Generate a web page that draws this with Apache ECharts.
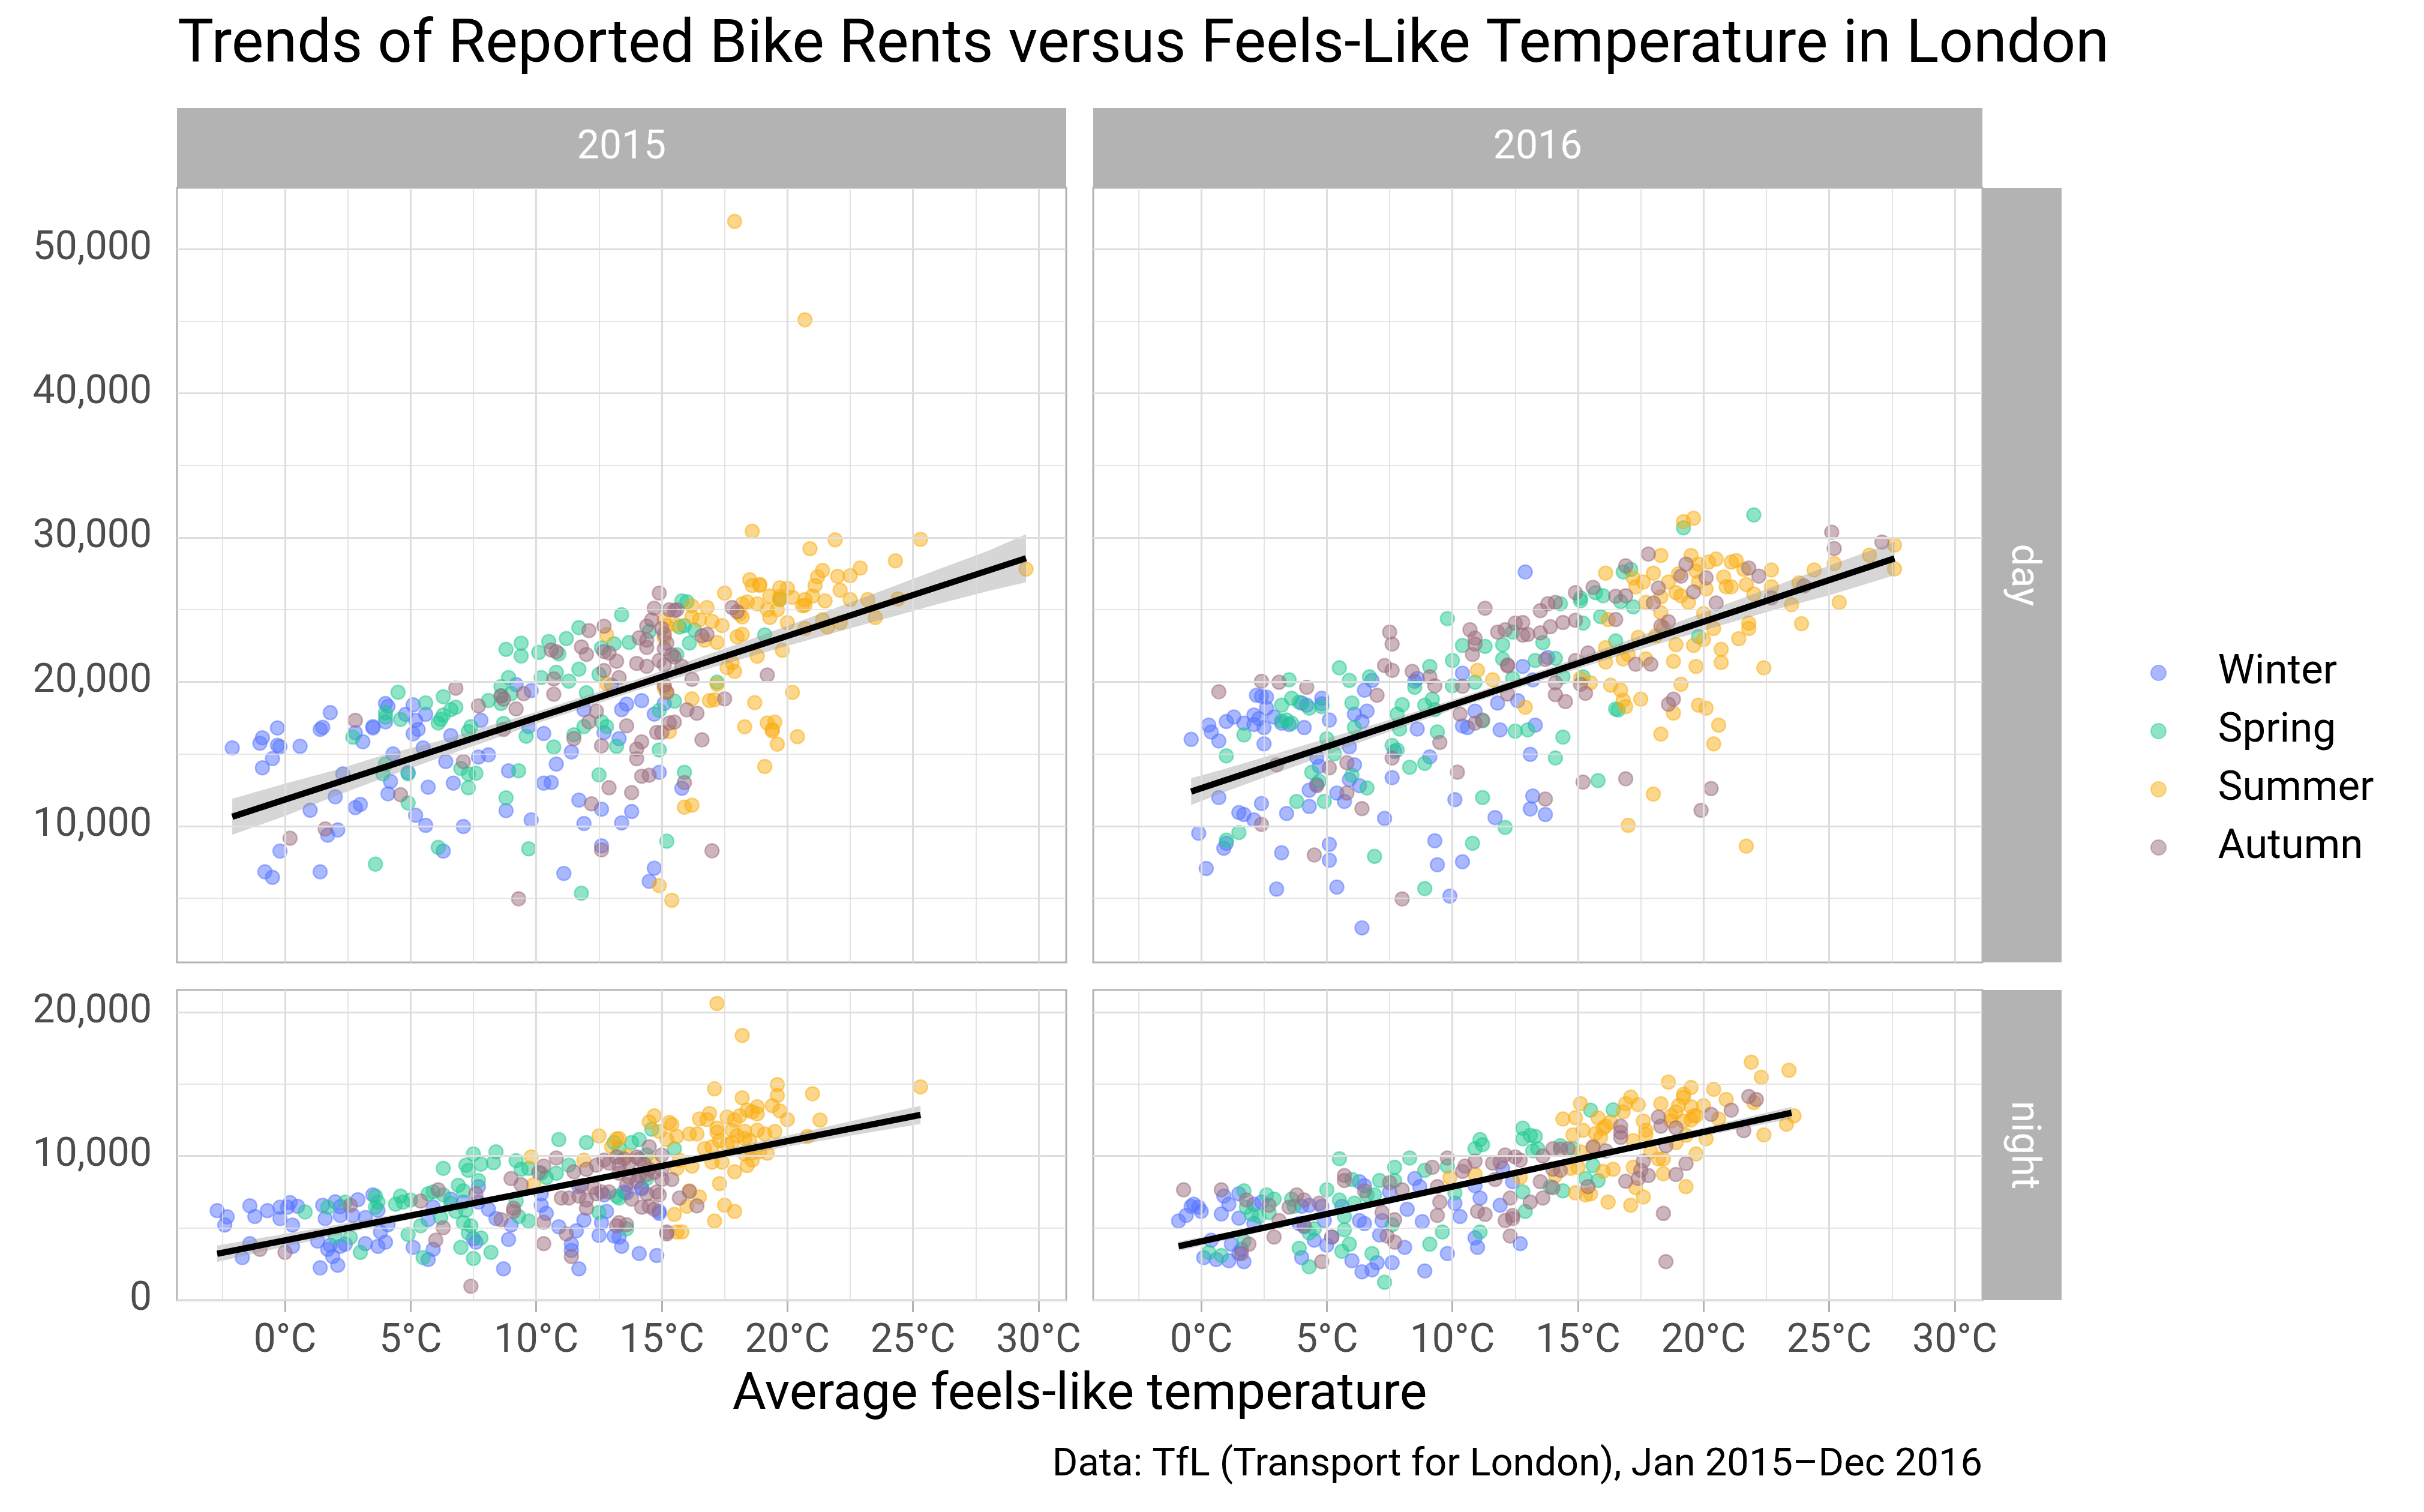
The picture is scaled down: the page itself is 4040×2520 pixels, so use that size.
<!DOCTYPE html>
<html>
<head>
<meta charset="utf-8">
<script src="https://cdn.jsdelivr.net/npm/echarts@6/dist/echarts.min.js"></script>
<style>
html, body { margin: 0; padding: 0; background: #fff; }
#chart { width: 4040px; height: 2520px; }
</style>
</head>
<body>
<div id="chart"></div>
<script>
// 各面板数据：[平均体感温度 °C, 租车量]
const winter2015Day = [[-2.1,15420],[-1.0,15740],[-0.9,16120],[-0.3,16800],[-0.3,15600],[-0.2,15500],[-0.5,14680],[-0.9,14040],[0.6,15530],[1.4,16700],[1.5,16850],[1.8,17860],[3.1,15850],[2.8,16480],[3.5,16900],[3.5,16800],[4.0,18500],[4.1,18300],[4.0,17230],[5.1,18400],[4.8,17750],[5.2,17330],[5.6,17750],[5.1,16400],[5.3,16700],[4.3,15000],[5.5,15420],[6.6,16270],[7.8,17330],[6.4,14470],[7.7,14790],[8.1,14940],[4.9,13720],[4.2,13090],[2.0,12030],[2.3,13620],[1.0,11100],[2.8,11280],[3.0,11500],[4.1,12240],[5.7,12700],[6.7,12980],[5.2,10750],[5.6,10050],[7.1,9970],[8.9,13830],[9.2,19810],[9.8,19390],[9.7,16900],[10.3,16420],[10.3,12980],[10.6,13020],[8.8,11070],[9.8,10430],[10.8,14300],[11.4,15140],[11.7,11800],[11.9,10180],[12.6,11170],[13.4,10220],[11.9,18070],[12.7,16480],[13.3,16060],[13.4,18070],[13.0,19770],[2.1,9730],[1.7,9370],[-0.2,8270],[-0.8,6830],[-0.5,6450],[1.4,6830],[6.3,8270],[11.1,6720],[12.6,8630],[14.2,18700],[13.6,18460],[15.1,18500],[14.7,17760],[15.8,12620],[14.9,13730],[13.8,11010],[14.7,7080],[14.5,6170]];
const spring2015Day = [[4.5,19280],[4.0,17860],[4.0,17550],[4.6,17400],[5.6,18540],[6.3,18970],[6.2,17400],[6.1,17150],[6.3,17700],[6.6,18070],[6.8,18240],[7.3,16550],[7.4,16900],[2.7,16160],[4.0,14300],[3.9,13620],[4.9,13620],[7.0,14000],[7.3,13620],[7.6,13660],[7.3,12660],[4.9,11600],[6.1,8530],[3.6,7360],[8.1,18710],[8.6,19030],[8.6,18500],[8.7,17120],[8.9,20300],[8.6,19670],[9.0,19180],[8.8,22250],[9.4,22680],[9.4,21790],[10.1,22040],[10.5,22790],[10.9,21940],[11.2,23000],[11.7,23760],[10.2,20300],[10.8,20660],[11.3,20050],[11.7,20880],[12.0,19240],[12.5,20520],[12.6,22360],[13.1,22640],[13.4,24650],[9.6,16230],[10.7,15480],[11.5,16330],[11.9,16900],[12.6,17230],[12.8,16900],[13.2,15530],[9.3,13830],[12.5,13550],[8.8,11960],[9.7,8420],[11.8,5340],[15.8,25610],[16.0,25550],[15.9,23900],[15.7,23800],[16.3,23600],[13.7,22730],[14.5,23500],[15.6,21880],[16.1,22690],[19.1,23250],[19.7,25710],[17.2,19970],[15.5,18660],[14.9,18020],[14.9,15280],[15.9,13730],[15.2,8950]];
const summer2015Day = [[12.8,23270],[12.8,19880],[17.9,51920],[20.7,45100],[18.6,30440],[20.9,29230],[21.9,29840],[25.3,29880],[24.3,28390],[29.5,27820],[22.9,27890],[21.4,27720],[21.2,27280],[22.0,27320],[22.5,27360],[22.1,26350],[21.1,26680],[18.5,27080],[18.6,26680],[18.9,26680],[18.9,26760],[19.7,26520],[20.0,26480],[17.5,26150],[19.3,25950],[19.7,25900],[20.2,25860],[19.7,25740],[20.7,25700],[21.0,25950],[21.5,25610],[20.6,25270],[20.7,25310],[22.5,25700],[23.2,25700],[24.4,25750],[18.8,25400],[18.4,25540],[18.2,25400],[19.2,25000],[19.3,24460],[19.6,25000],[18.1,24700],[18.2,24500],[16.8,25150],[16.2,25270],[16.2,24500],[16.5,24300],[17.0,24200],[17.4,23900],[20.0,24100],[20.7,23700],[21.4,24300],[21.6,23800],[22.1,24100],[23.5,24460],[18.0,23130],[18.2,23290],[17.2,22730],[16.7,22890],[15.1,24300],[15.2,23900],[15.6,23940],[15.1,23050],[19.8,22190],[18.8,21780],[17.8,21320],[17.6,20980],[17.9,20720],[20.2,19270],[16.2,18820],[16.9,18700],[17.1,18760],[17.2,19830],[18.7,18560],[15.1,19570],[15.2,19270],[19.2,17150],[19.5,17210],[19.4,16700],[19.4,16600],[18.3,16890],[20.4,16200],[19.6,15680],[19.1,14130],[15.3,16550],[15.9,11310],[16.2,11450],[14.9,5870],[15.4,4860]];
const autumn2015Day = [[2.8,17330],[6.8,19560],[7.7,18330],[8.6,19030],[8.7,18800],[9.2,18120],[9.5,19180],[8.7,16700],[10.7,20200],[10.7,19140],[10.6,22210],[10.8,22100],[11.8,22420],[12.0,21900],[12.1,23550],[12.7,23850],[12.7,22100],[12.9,22000],[12.7,20790],[13.2,21430],[13.3,20300],[12.4,17970],[12.1,17230],[11.5,16060],[12.6,15570],[12.9,12660],[12.2,11540],[12.6,8350],[9.3,4960],[7.1,14470],[4.6,12180],[1.6,9800],[0.2,9160],[14.9,26150],[14.7,25100],[15.3,25000],[15.5,24950],[15.6,25000],[14.6,24300],[14.4,23860],[15.0,23700],[15.1,23300],[14.1,23050],[14.4,22890],[14.4,22390],[16.6,23190],[16.8,23290],[17.8,25150],[18.0,24860],[15.1,22290],[15.2,22690],[15.4,21880],[14.0,21280],[14.4,21080],[14.9,21480],[15.1,21180],[15.5,21720],[15.8,21080],[16.2,20170],[15.1,19770],[15.2,19270],[19.2,20470],[17.5,18820],[16.0,18060],[16.4,17820],[15.3,17150],[15.5,17210],[14.8,16490],[15.0,16490],[16.6,15980],[13.6,16950],[14.2,15840],[14.0,15340],[14.0,14670],[14.2,13460],[14.5,13530],[15.9,13020],[13.8,12320],[17.0,8290]];

const winter2016Day = [[-0.4,16010],[0.3,17000],[0.4,16520],[0.7,15900],[1.0,17250],[1.3,17560],[1.7,17140],[2.1,17040],[2.1,17700],[2.3,17450],[2.5,16830],[2.2,19070],[2.4,19000],[2.6,18940],[2.6,18180],[2.9,17560],[2.5,15700],[3.2,17140],[3.5,17040],[4.0,18530],[4.2,18380],[4.1,16830],[4.8,18860],[4.8,18480],[5.1,17350],[6.1,17760],[6.4,17250],[6.6,17970],[6.5,19420],[6.8,20100],[8.5,20040],[8.6,20240],[8.6,16730],[10.4,20600],[10.9,17970],[10.4,16940],[10.6,16830],[11.8,18530],[12.6,18700],[12.8,21070],[11.9,16670],[13.3,17000],[13.2,20140],[12.9,27620],[5.9,15490],[4.6,14770],[4.7,14150],[6.1,14250],[5.9,13220],[6.3,12800],[4.3,12490],[4.6,12900],[5.4,12290],[5.7,11710],[4.3,11360],[7.6,13360],[9.1,14800],[7.7,15180],[10.1,11830],[13.2,12080],[13.1,11190],[11.7,10590],[13.1,14970],[0.7,11980],[2.4,11560],[1.5,10940],[1.7,10800],[2.1,10430],[3.4,10880],[7.3,10530],[-0.1,9500],[0.9,8460],[1.0,8810],[0.2,7060],[3.2,8150],[5.1,8730],[5.1,7630],[9.3,8980],[9.4,7320],[10.4,7530],[3.0,5630],[5.4,5770],[9.9,5150],[6.4,2940],[13.8,21690],[13.7,10800]];
const spring2016Day = [[3.5,20140],[3.2,18380],[3.6,18860],[3.9,18590],[4.3,18180],[4.8,18280],[3.2,17290],[3.4,17350],[3.6,17140],[1.7,16320],[1.0,14870],[5.5,20970],[5.9,20100],[6.7,20350],[6.0,18530],[6.1,16830],[5.0,16050],[5.3,15010],[4.4,13730],[4.7,13110],[6.0,13530],[6.6,12640],[3.8,11710],[4.9,11710],[1.0,9020],[1.5,9560],[6.9,7900],[7.8,17760],[8.0,18420],[7.9,16730],[7.6,15590],[7.8,15280],[8.3,14080],[8.9,14350],[8.9,18380],[9.2,18800],[9.3,18070],[9.1,21070],[8.5,19620],[9.4,16520],[9.8,24380],[10.0,21480],[10.0,19730],[10.4,22520],[10.9,19970],[11.3,22460],[11.2,17290],[11.2,11980],[10.8,8810],[12.0,22580],[12.0,21590],[12.4,23450],[12.4,20240],[12.5,16580],[13.0,16670],[13.3,21480],[12.1,9910],[8.9,5670],[22.0,31570],[19.2,30680],[16.8,27620],[17.1,27790],[15.1,25820],[15.1,25620],[15.7,26180],[16.0,25970],[16.7,25560],[17.2,25200],[14.3,25410],[15.9,24520],[15.2,24070],[13.6,22720],[16.5,22830],[14.1,21630],[15.2,20350],[14.4,20350],[16.5,18110],[16.6,18050],[14.4,16170],[14.1,14720],[15.8,13150],[19.8,23140]];
const summer2016Day = [[11.0,20800],[11.6,20140],[12.9,18240],[19.2,31100],[19.6,31340],[18.3,28760],[19.5,28760],[19.8,28160],[20.2,28300],[20.5,28510],[21.1,28300],[21.3,28410],[21.6,27790],[22.7,27750],[16.1,27540],[18.0,27540],[17.2,27210],[17.6,26920],[17.3,26590],[18.6,26920],[19.0,27480],[19.7,27680],[19.8,26920],[20.1,26440],[20.8,27270],[20.9,26590],[21.1,26590],[21.7,26750],[22.7,26590],[22.0,26090],[18.9,26180],[19.1,25970],[19.4,25510],[17.7,25510],[18.3,25890],[18.3,24790],[20.0,24730],[20.4,23700],[21.8,24070],[21.8,23700],[23.5,25350],[23.9,24030],[24.4,27750],[25.2,28200],[25.4,25510],[26.6,28780],[27.6,29480],[27.6,27830],[23.8,26860],[17.4,23080],[18.1,23200],[18.9,22580],[19.6,22520],[20.0,22930],[20.7,22250],[21.4,22990],[16.1,22370],[16.1,21380],[16.8,21590],[17.0,21900],[17.7,21590],[18.8,21420],[19.7,21070],[20.7,21340],[22.4,20970],[15.1,20240],[15.5,19930],[16.3,19770],[16.7,19420],[16.8,18730],[16.9,18280],[17.5,18800],[19.1,19830],[19.8,18380],[20.1,18180],[18.8,17830],[20.6,17000],[18.3,16380],[20.4,15700],[18.0,12220],[17.0,10050],[21.7,8610],[16.2,24320],[18.4,23760]];
const autumn2016Day = [[0.7,19310],[2.4,20040],[3.1,19970],[4.2,19620],[7.0,19070],[7.5,23450],[7.6,22620],[7.3,21130],[7.6,20800],[8.4,20720],[9.1,20350],[9.3,19730],[9.5,15800],[7.6,14720],[5.8,14390],[5.1,14040],[3.0,14250],[4.6,12800],[5.8,12290],[6.4,11210],[2.4,10120],[4.5,8000],[8.0,4950],[10.7,23610],[10.9,23030],[10.9,22620],[10.8,21900],[11.3,25100],[10.4,19690],[10.3,17760],[10.9,17140],[11.2,17350],[10.2,13740],[11.8,23450],[12.1,23610],[12.5,24070],[12.8,24110],[12.2,21170],[12.2,21100],[12.2,19150],[12.8,23240],[13.0,23280],[17.8,28860],[16.9,28040],[19.3,28160],[19.1,27330],[20.1,27210],[21.8,27890],[22.2,27330],[25.1,30370],[25.2,29240],[27.1,29690],[24.0,26650],[22.7,25820],[15.6,26550],[14.9,26180],[16.5,25930],[16.9,25970],[18.2,26510],[18.0,25470],[19.6,26240],[20.5,25470],[18.6,24170],[18.3,23860],[16.5,24320],[14.9,24270],[14.4,24110],[13.9,23820],[13.5,23400],[14.1,25510],[13.8,25410],[13.5,24940],[15.4,22000],[14.9,21480],[13.7,21550],[17.3,21220],[17.9,21220],[14.1,19930],[15.1,19830],[15.3,19210],[14.1,19110],[14.5,18630],[18.8,18800],[18.6,18450],[15.2,13050],[16.9,13280],[20.3,12600],[19.9,11090],[13.7,11870]];

const winter2015Night = [[-2.7,6190],[-2.3,5760],[-2.4,5190],[-1.4,6530],[-1.2,5790],[-0.7,6190],[-0.2,5640],[-0.2,6430],[0.2,6760],[0.1,6430],[0.3,5190],[0.5,6500],[1.5,6570],[1.6,5640],[2.0,6810],[2.2,6470],[2.2,5860],[2.7,5860],[2.9,6960],[3.2,5710],[3.5,7290],[3.7,6210],[4.1,5210],[3.8,4710],[-1.4,3900],[-1.7,2930],[0.3,3710],[1.3,4070],[1.7,3500],[1.8,3790],[2.2,3710],[2.4,3860],[1.9,3000],[1.4,2210],[2.1,2390],[3.2,3900],[3.7,3710],[4.0,4000],[5.1,3640],[5.9,3500],[5.7,2790],[5.7,5570],[5.9,6430],[6.6,7000],[7.7,7860],[7.7,6790],[8.1,6290],[7.1,6790],[8.4,5640],[9.0,5190],[8.9,4190],[7.6,4000],[7.5,4240],[8.7,2140],[10.2,6570],[10.2,7360],[10.4,6000],[10.9,5070],[11.6,4790],[11.4,3860],[11.4,3430],[11.9,5530],[11.7,2140],[12.6,5360],[12.8,6140],[12.5,4470],[13.1,4430],[11.7,7860],[12.7,7290],[13.5,7500],[13.6,7430],[14.2,7790],[14.2,7710],[14.9,6140],[14.9,6000],[13.4,3710],[14.1,3210],[14.8,3070],[13.3,4360]];
const spring2015Night = [[0.8,6100],[1.7,6430],[2.4,6790],[2.0,4390],[2.6,4330],[3.0,3290],[3.6,7210],[3.7,6790],[3.6,6430],[4.4,6640],[4.6,7210],[4.7,6790],[5.0,6930],[4.9,4530],[5.4,5140],[5.5,2930],[5.7,7360],[5.9,7500],[6.3,7290],[6.3,9140],[6.9,7960],[7.1,7570],[7.2,9360],[7.3,9000],[7.5,10140],[7.8,9430],[7.7,8290],[6.6,6710],[6.8,6140],[7.2,6210],[6.2,5710],[7.1,5360],[7.4,5140],[7.3,4640],[7.0,3640],[7.5,2860],[8.2,3290],[7.8,4290],[8.4,10290],[8.3,9530],[9.2,9670],[9.4,9070],[9.7,9140],[9.2,6860],[9.3,5790],[9.7,5470],[10.9,11140],[12.0,10930],[10.2,8790],[10.4,8500],[10.8,8790],[11.3,9360],[13.1,10930],[12.5,6070],[13.2,7210],[13.8,10930],[14.1,11140],[14.6,11860],[15.5,10500],[13.3,10500],[14.4,10070],[14.4,8430],[13.3,7070],[13.6,4930]];
const summer2015Night = [[9.8,9930],[9.9,8000],[11.9,9710],[12.5,11390],[13.0,10640],[13.2,11190],[17.2,20610],[18.2,18390],[17.1,14670],[19.6,14960],[19.6,14210],[21.0,14330],[21.3,12500],[25.3,14810],[18.2,14040],[19.4,13500],[19.7,13140],[20.0,12530],[18.8,13430],[18.8,12930],[18.6,13070],[18.4,13190],[18.1,12790],[17.6,12710],[17.9,12500],[16.9,12960],[16.5,12570],[16.8,12530],[14.7,12790],[14.5,12360],[15.3,12330],[15.4,12190],[14.9,11710],[15.6,11360],[16.1,11530],[16.4,11530],[17.2,11930],[17.2,11640],[17.8,11790],[18.3,11720],[18.8,11790],[19.1,11530],[19.5,11710],[20.8,11360],[17.3,11070],[17.6,10790],[17.8,10930],[18.3,11210],[18.5,11070],[18.0,11400],[15.2,11140],[16.7,10500],[17.0,10640],[18.6,10210],[18.9,10290],[19.2,10190],[18.3,10140],[18.6,9710],[17.0,9570],[17.4,9570],[15.7,9710],[16.2,9290],[15.6,9140],[18.4,9330],[17.9,8900],[17.3,8070],[16.5,7140],[16.1,7570],[16.0,6500],[15.5,5930],[17.5,6570],[17.9,6140],[17.1,5470],[15.6,4710],[15.8,4710],[13.3,11210],[13.6,10000],[14.6,9640]];
const autumn2015Night = [[2.6,6570],[5.4,6860],[6.1,7640],[6.3,5000],[6.0,4140],[7.6,7360],[9.0,8430],[9.4,8000],[9.1,6360],[9.1,6140],[8.6,5570],[7.4,930],[10.3,5390],[10.3,3900],[11.2,4570],[11.4,3000],[-1.0,3500],[0.0,3290],[10.1,8860],[10.3,9290],[10.8,9860],[11.0,7070],[11.3,7070],[11.5,8900],[12.0,6360],[12.0,9070],[12.4,9360],[12.7,9710],[12.9,9500],[13.2,9930],[11.8,7930],[12.3,7790],[12.6,7500],[12.9,7500],[11.7,7210],[12.0,6930],[12.4,7360],[13.2,5140],[14.5,10640],[15.0,10070],[14.0,9930],[14.1,9790],[13.7,9500],[13.5,9790],[13.3,9360],[14.3,9430],[14.5,9070],[15.0,9070],[14.7,8860],[13.3,8790],[13.7,8500],[14.1,8640],[14.4,8710],[15.0,8360],[15.4,8360],[13.6,8000],[14.0,8210],[14.8,7500],[14.9,7290],[14.4,7360],[16.1,7530],[15.7,7070],[16.4,6530],[13.8,7000],[14.2,6430],[14.5,6500],[14.7,6290],[15.2,4710],[15.2,4570],[13.6,5210],[13.3,5360]];

const winter2016Night = [[-0.9,5470],[-0.6,5860],[-0.4,6500],[-0.3,6640],[-0.1,6430],[0.0,6140],[0.8,5960],[0.9,7210],[1.1,6640],[1.5,7360],[1.5,5670],[2.1,6640],[2.4,6790],[2.1,5290],[0.4,4140],[0.1,2930],[0.6,2790],[1.1,2710],[1.5,3210],[1.7,2640],[1.2,3860],[1.6,3500],[4.0,6500],[4.3,6570],[3.9,5290],[4.1,5070],[4.5,4140],[4.8,6500],[4.9,5500],[5.0,3790],[5.2,4360],[4.0,2930],[5.6,6500],[6.3,8210],[6.5,7930],[6.3,5500],[6.5,5290],[7.1,4500],[7.2,5500],[7.5,7500],[8.2,6290],[8.5,8430],[8.7,7860],[8.8,5430],[8.1,3640],[6.0,2710],[6.4,1930],[6.8,2070],[7.0,2570],[7.6,2570],[8.9,2000],[9.8,3210],[10.1,6710],[10.3,5790],[10.9,7930],[11.1,7070],[10.9,4290],[11.0,3640],[11.9,6570],[12.0,9140],[12.4,8210],[12.7,3900]];
const spring2016Night = [[1.7,7570],[1.8,6430],[2.0,5930],[2.3,5790],[2.6,7290],[2.9,7000],[2.7,6070],[1.7,4070],[0.3,3290],[0.8,3070],[3.6,7000],[3.7,6500],[4.3,4640],[4.5,4930],[3.9,3570],[4.3,2290],[5.0,7640],[5.5,6930],[5.7,5790],[5.7,4860],[5.5,9810],[6.0,8360],[6.1,6710],[5.6,3360],[5.9,3860],[6.8,3210],[7.3,1210],[6.6,7290],[6.9,7290],[7.1,8290],[7.7,9210],[7.7,8290],[7.6,5210],[8.3,9860],[8.9,9000],[9.1,3860],[9.6,4710],[10.1,7430],[9.8,9290],[10.9,10500],[11.1,11140],[11.2,10790],[11.1,4710],[12.8,11930],[12.8,11190],[13.1,11430],[13.2,10360],[12.8,7500],[12.9,6140],[15.5,13190],[16.4,13210],[13.4,10500],[13.3,11360],[14.3,10710],[14.8,10500],[15.6,9330],[15.3,8430],[15.8,8290],[14.4,7570],[13.9,7860]];
const summer2016Night = [[9.9,8500],[10.9,8710],[12.7,8500],[21.9,16530],[23.4,15960],[22.3,15470],[18.6,15140],[19.5,14760],[20.4,14640],[19.2,14290],[19.2,14070],[20.9,13930],[17.1,14100],[15.1,13640],[16.9,13640],[17.4,13570],[18.3,13640],[19.0,13500],[19.5,13430],[20.0,13500],[18.9,13070],[18.7,12790],[19.6,12790],[16.8,13070],[14.4,12570],[14.9,12670],[15.8,12640],[17.6,12430],[18.7,12430],[19.2,12430],[19.5,12500],[19.7,12790],[20.6,12570],[23.6,12790],[23.3,12210],[22.4,11470],[22.0,13710],[16.1,12070],[16.3,12360],[16.0,11930],[15.2,11790],[14.8,11470],[15.7,11570],[15.9,11290],[17.7,11790],[17.7,11500],[17.2,11070],[19.3,11430],[20.1,11190],[18.9,10930],[15.6,10570],[15.1,10290],[17.9,10290],[18.2,9790],[18.4,9790],[19.7,10140],[15.0,9210],[14.7,9140],[14.1,8640],[16.4,9070],[16.0,8930],[17.2,9210],[17.3,7790],[18.4,8760],[19.3,7860],[14.9,7430],[15.3,7290],[15.5,7360],[16.2,6790],[17.1,6570],[17.6,7140]];
const autumn2016Night = [[-0.7,7640],[0.8,7640],[1.8,6930],[2.7,6570],[3.1,5500],[2.9,4360],[1.9,3860],[1.6,3210],[3.8,7290],[4.1,6930],[4.7,6710],[3.5,6430],[4.1,5140],[5.2,4360],[4.8,2640],[5.7,8640],[5.7,8290],[6.5,7570],[7.5,8140],[7.2,6070],[7.7,5570],[7.4,4430],[7.7,4000],[8.0,7640],[9.2,9210],[9.8,9860],[9.4,7860],[9.5,6790],[9.4,5860],[10.4,8930],[10.5,9290],[10.9,9640],[11.0,6140],[11.3,5930],[11.6,9500],[11.9,9570],[12.1,10070],[11.7,8360],[12.5,9930],[12.7,9710],[12.3,7070],[12.1,5500],[12.4,5860],[12.4,5640],[12.3,4430],[13.1,6790],[21.8,14140],[22.1,13930],[21.1,13190],[20.3,12900],[18.2,12710],[18.3,12070],[18.9,11960],[16.7,12070],[16.7,11640],[16.7,11290],[21.6,11760],[18.5,10710],[15.6,10640],[16.1,10360],[14.0,10500],[14.3,10470],[14.6,10500],[13.6,10000],[17.6,9640],[19.3,9470],[14.0,9070],[14.3,9000],[17.5,9000],[17.8,8640],[17.4,8430],[16.9,8240],[18.9,8710],[15.4,7860],[13.5,8210],[14.0,7790],[13.6,7070],[18.4,6000],[18.5,2640]];

// 线性拟合线(两端点)与置信带 [x, 下界, 上界]
const line2015Day = [[-2.1,10650],[29.5,28570]];
const band2015Day = [[-2.1,9400,11900],[0,10700,12950],[2,12080,13880],[4,13380,14960],[6,14640,15840],[8,15850,16890],[10,17110,17910],[12,18250,19050],[14,19400,20160],[16,20470,21390],[18,21490,22610],[20,22490,23890],[22,23470,25170],[24,24430,26470],[26,25390,27790],[28,26300,29080],[29.5,26900,30240]];
const line2016Day = [[-0.4,12390],[27.6,28550]];
const band2016Day = [[-0.4,11460,13320],[1,12400,14000],[3,13680,15040],[5,14940,16080],[7,16240,17100],[9,17460,18180],[11,18650,19310],[13,19790,20450],[15,20910,21670],[17,21990,22890],[19,23040,24160],[21,24070,25450],[23,25080,26750],[25,26000,28060],[27.6,27390,29710]];
const line2015Night = [[-2.7,3190],[25.3,12860]];
const band2015Night = [[-2.7,2620,3760],[-1,3300,4280],[1,4070,4870],[3,4850,5510],[5,5600,6100],[7,6360,6800],[9,7060,7400],[11,7760,8080],[13,8430,8790],[15,9090,9530],[17,9720,10280],[19,10340,11040],[21,10950,11810],[23,11560,12600],[25.3,12230,13490]];
const line2016Night = [[-0.9,3710],[23.5,13000]];
const band2016Night = [[-0.9,3380,4040],[1,4150,4680],[3,4960,5420],[5,5780,6140],[7,6570,6870],[9,7360,7640],[11,8120,8360],[13,8870,9130],[15,9600,9920],[17,10330,10730],[19,11040,11540],[21,11740,12380],[23.5,12580,13420]];

const seasons = ['Winter', 'Spring', 'Summer', 'Autumn'];
const years = ['2015', '2016'];
const periods = ['day', 'night'];
const xTicks = [0, 5, 10, 15, 20, 25, 30];
const xMinorTicks = [-2.5, 2.5, 7.5, 12.5, 17.5, 22.5, 27.5];
const dayTicks = [10000, 20000, 30000, 40000, 50000];
const dayMinorTicks = [5000, 15000, 25000, 35000, 45000];
const nightTicks = [0, 10000, 20000];
const nightMinorTicks = [5000, 15000];

const FONT = 'Roboto';
const seasonColors = { Winter: '#5573ff', Spring: '#1fc991', Summer: '#f9ad13', Autumn: '#9b6b7d' };
const axisGray = '#b3b3b3';
const gridGray = '#dedede';

// 面板布局(像素)
const colLeft = [295, 1822];
const rowTop = [313, 1650];
const panelW = 1482;
const rowH = [1291, 517];
const rowRange = [[550, 54250], [-40, 21550]];

const panels = [
    { row: 0, col: 0, data: [winter2015Day, spring2015Day, summer2015Day, autumn2015Day], line: line2015Day, band: band2015Day },
    { row: 0, col: 1, data: [winter2016Day, spring2016Day, summer2016Day, autumn2016Day], line: line2016Day, band: band2016Day },
    { row: 1, col: 0, data: [winter2015Night, spring2015Night, summer2015Night, autumn2015Night], line: line2015Night, band: band2015Night },
    { row: 1, col: 1, data: [winter2016Night, spring2016Night, summer2016Night, autumn2016Night], line: line2016Night, band: band2016Night }
];

const fmtNum = v => v.toLocaleString('en-US');

let grid = [], xAxis = [], yAxis = [], series = [];
panels.forEach((p, i) => {
    const bottomRow = p.row === 1;
    const leftCol = p.col === 0;
    grid.push({
        left: colLeft[p.col], top: rowTop[p.row], width: panelW, height: rowH[p.row],
        show: true, backgroundColor: '#fff', borderColor: axisGray, borderWidth: 3
    });
    xAxis.push({
        type: 'value', gridIndex: i, min: -4.3, max: 31.1,
        axisLine: { show: false },
        splitLine: { show: false },
        axisTick: { show: bottomRow, customValues: xTicks, length: 21, lineStyle: { color: axisGray, width: 3 } },
        axisLabel: {
            show: bottomRow, customValues: xTicks, margin: 36,
            formatter: v => v + '°C', color: '#4d4d4d', fontSize: 66, fontFamily: FONT
        }
    });
    const ticks = p.row === 0 ? dayTicks : nightTicks;
    yAxis.push({
        type: 'value', gridIndex: i, min: rowRange[p.row][0], max: rowRange[p.row][1],
        axisLine: { show: false },
        splitLine: { show: false },
        axisTick: { show: leftCol, customValues: ticks, length: 21, lineStyle: { color: axisGray, width: 3 } },
        axisLabel: {
            show: leftCol, customValues: ticks, margin: 42,
            formatter: fmtNum, color: '#4d4d4d', fontSize: 66, fontFamily: FONT
        }
    });

    // 网格线
    const minorY = p.row === 0 ? dayMinorTicks : nightMinorTicks;
    const gl = [];
    xMinorTicks.forEach(v => gl.push({ xAxis: v, lineStyle: { width: 1.6 } }));
    minorY.forEach(v => gl.push({ yAxis: v, lineStyle: { width: 1.6 } }));
    xTicks.forEach(v => gl.push({ xAxis: v, lineStyle: { width: 3.2 } }));
    ticks.forEach(v => gl.push({ yAxis: v, lineStyle: { width: 3.2 } }));
    series.push({
        type: 'line', name: 'grid' + i, xAxisIndex: i, yAxisIndex: i, data: [], z: 1, silent: true,
        markLine: {
            silent: true, animation: false, symbol: ['none', 'none'], label: { show: false },
            lineStyle: { color: gridGray, type: 'solid' }, emphasis: { disabled: true },
            data: gl
        }
    });

    p.data.forEach((pts, s) => {
        const c = seasonColors[seasons[s]];
        series.push({
            type: 'scatter', name: seasons[s], xAxisIndex: i, yAxisIndex: i, data: pts, z: 3,
            symbolSize: 23,
            itemStyle: { color: c, borderColor: c, borderWidth: 2.5, opacity: 0.5 },
            emphasis: { disabled: true }
        });
    });

    const band = p.band;
    series.push({
        type: 'custom', name: 'band' + i, xAxisIndex: i, yAxisIndex: i, z: 4, silent: true,
        data: band, encode: { x: 0, y: [1, 2] },
        renderItem: (params, api) => {
            if (params.dataIndex !== 0) return null;
            const upper = band.map(b => api.coord([b[0], b[2]]));
            const lower = band.map(b => api.coord([b[0], b[1]])).reverse();
            return { type: 'polygon', shape: { points: upper.concat(lower) }, style: { fill: 'rgba(153,153,153,0.4)' } };
        }
    });
    series.push({
        type: 'line', name: 'fit' + i, xAxisIndex: i, yAxisIndex: i, data: p.line, z: 5, silent: true,
        symbol: 'none', lineStyle: { color: '#000', width: 10.5 }, emphasis: { disabled: true }
    });
});

// 分面标签条
const graphic = [];
years.forEach((y, c) => {
    graphic.push({ type: 'rect', shape: { x: colLeft[c], y: 180, width: panelW, height: 133 }, style: { fill: axisGray } });
    graphic.push({ type: 'text', x: colLeft[c] + panelW / 2, y: 247,
        style: { text: y, align: 'center', verticalAlign: 'middle', fill: '#fff', font: '66px ' + FONT } });
});
periods.forEach((d, r) => {
    graphic.push({ type: 'rect', shape: { x: colLeft[1] + panelW, y: rowTop[r], width: 132, height: rowH[r] }, style: { fill: axisGray } });
    graphic.push({ type: 'text', x: colLeft[1] + panelW + 66, y: rowTop[r] + rowH[r] / 2, rotation: -Math.PI / 2,
        style: { text: d, align: 'center', verticalAlign: 'middle', fill: '#fff', font: '66px ' + FONT } });
});
graphic.push({ type: 'text', x: (colLeft[0] + colLeft[1] + panelW) / 2, y: 2326,
    style: { text: 'Average feels-like temperature', align: 'center', verticalAlign: 'middle', fill: '#000', font: '86px ' + FONT } });
graphic.push({ type: 'text', x: colLeft[1] + panelW, y: 2443,
    style: { text: 'Data: TfL (Transport for London), Jan 2015–Dec 2016', align: 'right', verticalAlign: 'middle', fill: '#000', font: '65px ' + FONT } });

const chart = echarts.init(document.getElementById('chart'));
chart.setOption({
    animation: false,
    backgroundColor: '#fff',
    title: {
        text: 'Trends of Reported Bike Rents versus Feels-Like Temperature in London',
        left: 291, top: 22,
        textStyle: { fontFamily: FONT, fontSize: 101, fontWeight: 'normal', color: '#000' }
    },
    legend: {
        data: seasons, orient: 'vertical', left: 3579, top: 1082,
        icon: 'circle', itemWidth: 86, itemHeight: 25, itemGap: 28,
        itemStyle: { opacity: 0.5 },
        textStyle: { fontFamily: FONT, fontSize: 69, lineHeight: 68, color: '#000', padding: [0, 0, 0, 51] },
        selectedMode: false
    },
    grid, xAxis, yAxis, series, graphic
});
</script>
</body>
</html>
